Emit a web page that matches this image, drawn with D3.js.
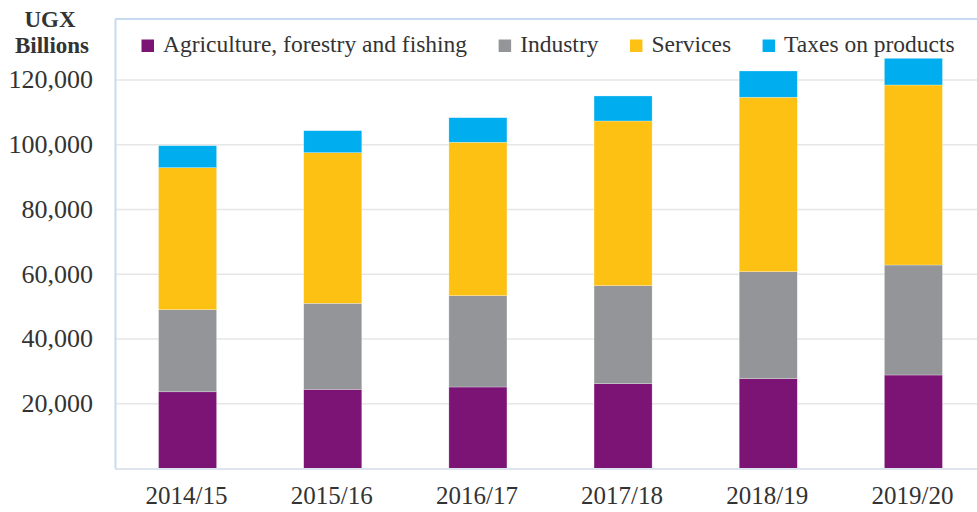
<!DOCTYPE html>
<html>
<head>
<meta charset="utf-8">
<script src="https://cdn.jsdelivr.net/npm/d3@7"></script>
<style>
  html, body { margin: 0; padding: 0; background: #fff; }
  svg { display: block; }
  text { font-family: "Liberation Serif", "Times New Roman", serif; fill: #333; }
</style>
</head>
<body>
<svg id="chart" width="977" height="512"></svg>
<script>
const categories = ["2014/15", "2015/16", "2016/17", "2017/18", "2018/19", "2019/20"];
const seriesNames = ["Agriculture, forestry and fishing", "Industry", "Services", "Taxes on products"];
const agriculture = [23700, 24460, 25180, 26200, 27740, 28880];
const industry    = [25350, 26570, 28200, 30270, 33050, 33980];
const services    = [43870, 46520, 47390, 50870, 53880, 55600];
const taxes       = [6790, 6800, 7590, 7730, 8120, 8240];
const yTicks = [20000, 40000, 60000, 80000, 100000, 120000];
const colors = ["#7b1474", "#939598", "#fdc113", "#00aeef"];

const seriesKeys = ["agri", "ind", "serv", "tax"];
const rows = categories.map((c, i) => ({
  cat: c, agri: agriculture[i], ind: industry[i], serv: services[i], tax: taxes[i]
}));
const stacked = d3.stack().keys(seriesKeys)(rows);

const svg = d3.select("#chart");
const mLeft = 115, mRight = 986, mTop = 19, mBottom = 468.5;

const x = d3.scaleBand().domain(categories).range([mLeft, mRight]).paddingInner(0.6).paddingOuter(0.3);
const y = d3.scaleLinear().domain([0, 120000]).range([mBottom, 80]);

// gridlines
svg.append("g").selectAll("line").data(yTicks).join("line")
  .attr("x1", mLeft).attr("x2", 977)
  .attr("y1", d => y(d)).attr("y2", d => y(d))
  .attr("stroke", "#e6e6e6").attr("stroke-width", 1.6);

// frame: left + top
svg.append("line").attr("x1", mLeft + 0.5).attr("x2", mLeft + 0.5).attr("y1", mTop).attr("y2", mBottom)
  .attr("stroke", "#c6dbf0").attr("stroke-width", 2);
svg.append("line").attr("x1", mLeft).attr("x2", 977).attr("y1", mTop).attr("y2", mTop)
  .attr("stroke", "#c6dbf0").attr("stroke-width", 1.8);

// bars
svg.append("g").selectAll("g").data(stacked).join("g")
  .attr("fill", (d, i) => colors[i])
  .selectAll("rect").data(d => d).join("rect")
  .attr("x", d => x(d.data.cat))
  .attr("width", x.bandwidth())
  .attr("y", d => y(d[1]))
  .attr("height", d => y(d[0]) - y(d[1]))
  .attr("stroke", "rgba(255,255,255,0.45)").attr("stroke-width", 0.6);

// bottom axis line
svg.append("line").attr("x1", mLeft).attr("x2", 977).attr("y1", mBottom + 0.5).attr("y2", mBottom + 0.5)
  .attr("stroke", "#dde4ee").attr("stroke-width", 2);

// y axis labels
const yAxis = d3.axisLeft(y).tickValues(yTicks).tickFormat(d3.format(",")).tickSize(0).tickPadding(0);
const ya = svg.append("g").attr("transform", `translate(93,0)`).call(yAxis);
ya.select(".domain").remove();
ya.selectAll("text").attr("font-family", "Liberation Serif").attr("font-size", 26)
  .attr("fill", "#333").attr("dy", "0.30em");

// x axis labels
const xAxis = d3.axisBottom(x).tickSize(0).tickPadding(0);
const xa = svg.append("g").attr("transform", `translate(-1,503.5)`).call(xAxis);
xa.select(".domain").remove();
xa.selectAll("text").attr("font-family", "Liberation Serif").attr("font-size", 25)
  .attr("fill", "#333").attr("dy", "0");

// unit label
svg.append("text").attr("x", 50).attr("y", 27).attr("text-anchor", "middle")
  .attr("font-size", 23).attr("font-weight", "bold").attr("fill", "#222").text("UGX");
svg.append("text").attr("x", 52).attr("y", 52.5).attr("text-anchor", "middle")
  .attr("font-size", 23).attr("font-weight", "bold").attr("fill", "#222").text("Billions");

// legend
const legend = svg.append("g");
let lx = 141.5;
seriesNames.forEach((name, i) => {
  legend.append("rect").attr("x", lx).attr("y", 39.5).attr("width", 12.5).attr("height", 12.5).attr("fill", colors[i]);
  const t = legend.append("text").attr("x", lx + 21.5).attr("y", 51.7).attr("font-size", 23.5).text(name);
  const w = t.node().getComputedTextLength();
  lx = lx + 21.5 + w + 31.5;
});
</script>
</body>
</html>
